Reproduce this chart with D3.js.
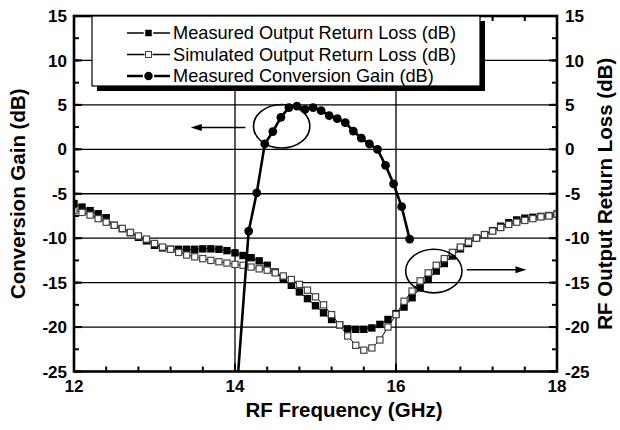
<!DOCTYPE html>
<html>
<head>
<meta charset="utf-8">
<script src="https://d3js.org/d3.v7.min.js"></script>
<style>
  html, body { margin: 0; padding: 0; background: #fff; }
  svg { display: block; font-family: "Liberation Sans", Arial, sans-serif; }
</style>
</head>
<body>
<svg id="chart" width="620" height="430"></svg>
<script>
// RF frequency grid for the return-loss sweeps (GHz)
const rlFreq = [12.0,12.1,12.2,12.3,12.4,12.5,12.6,12.7,12.8,12.9,
                13.0,13.1,13.2,13.3,13.4,13.5,13.6,13.7,13.8,13.9,
                14.0,14.1,14.2,14.3,14.4,14.5,14.6,14.7,14.8,14.9,
                15.0,15.1,15.2,15.3,15.4,15.5,15.6,15.7,15.8,15.9,
                16.0,16.1,16.2,16.3,16.4,16.5,16.6,16.7,16.8,16.9,
                17.0,17.1,17.2,17.3,17.4,17.5,17.6,17.7,17.8,17.9,18.0];

// Measured output return loss (dB)
const measuredRL = [-6.1,-6.5,-6.9,-7.25,-7.7,-8.55,-8.93,-9.38,-9.9,-10.3,
                    -10.8,-11.1,-11.25,-11.25,-11.25,-11.25,-11.2,-11.2,-11.25,-11.4,
                    -11.65,-11.95,-12.2,-12.55,-13.05,-13.8,-14.55,-15.3,-16.05,-16.8,
                    -17.6,-18.4,-19.15,-19.75,-20.2,-20.25,-20.25,-20.1,-19.7,-19.15,
                    -18.5,-17.75,-16.7,-15.6,-14.65,-13.7,-12.85,-12.0,-11.2,-10.6,
                    -10.0,-9.6,-9.15,-8.65,-8.25,-7.95,-7.75,-7.65,-7.55,-7.45,-7.3];

// Simulated output return loss (dB)
const simulatedRL = [-6.9,-7.1,-7.4,-7.8,-8.2,-8.55,-8.9,-9.35,-9.75,-10.1,
                     -10.6,-11.0,-11.25,-11.6,-11.9,-12.1,-12.3,-12.5,-12.65,-12.8,
                     -12.95,-13.05,-13.25,-13.45,-13.6,-13.9,-14.25,-14.65,-15.2,-15.85,
                     -16.6,-17.5,-18.6,-19.75,-21.0,-22.05,-22.6,-22.35,-21.45,-20.0,
                     -18.6,-17.1,-15.95,-14.8,-13.9,-13.05,-12.3,-11.6,-11.0,-10.45,
                     -10.0,-9.6,-9.2,-8.8,-8.45,-8.2,-8.0,-7.8,-7.6,-7.5,-7.3];

// Measured conversion gain (dB); the first sample lies below the axis range
const gainFreq = [13.97,14.17,14.27,14.37,14.47,14.57,14.67,14.77,14.87,14.97,15.07,
                  15.17,15.27,15.37,15.47,15.57,15.67,15.77,15.87,15.97,16.07,16.17];
const gainDB = [-33.5,-9.2,-4.9,0.6,2.0,3.6,4.7,4.85,4.5,4.7,4.35,
                3.8,3.45,3.0,2.05,1.25,0.6,0.0,-1.8,-3.9,-6.45,-10.1];

// Axis ticks
const xMajor = [12, 14, 16, 18];
const yMajor = [15, 10, 5, 0, -5, -10, -15, -20, -25];
const xGrid = [14, 16];
const yGrid = [10, 5, 0, -5, -10, -15, -20];

const legendItems = [
  {label: "Measured Output Return Loss (dB)", kind: "filled"},
  {label: "Simulated Output Return Loss (dB)", kind: "open"},
  {label: "Measured Conversion Gain (dB)", kind: "gain"}
];

const svg = d3.select("#chart");
const plot = {left: 74, right: 557, top: 16, bottom: 371.5};

const x = d3.scaleLinear().domain([12, 18]).range([plot.left, plot.right]);
const y = d3.scaleLinear().domain([-25, 15]).range([plot.bottom, plot.top]);

svg.append("rect").attr("width", 620).attr("height", 430).attr("fill", "#fff");

svg.append("defs").append("clipPath").attr("id", "plotClip")
  .append("rect")
  .attr("x", plot.left).attr("y", plot.top)
  .attr("width", plot.right - plot.left).attr("height", plot.bottom - plot.top);

// grid lines
const grid = svg.append("g").attr("stroke", "#000").attr("stroke-width", 1.3);
grid.selectAll("line.h").data(yGrid).join("line")
  .attr("x1", plot.left).attr("x2", plot.right)
  .attr("y1", d => y(d)).attr("y2", d => y(d));
grid.selectAll("line.v").data(xGrid).join("line")
  .attr("y1", plot.top).attr("y2", plot.bottom)
  .attr("x1", d => x(d)).attr("x2", d => x(d));

// inward ticks on all four sides
const xMinor = d3.range(12, 18.001, 0.4);
const yMinor = d3.range(-25, 15.001, 2.5);
const ticks = svg.append("g").attr("stroke", "#000").attr("stroke-width", 2);
[plot.bottom, plot.top].forEach((yy, i) => {
  const dir = i === 0 ? -1 : 1;
  ticks.append("g").selectAll("line").data(xMinor).join("line")
    .attr("x1", d => x(d)).attr("x2", d => x(d))
    .attr("y1", yy).attr("y2", yy + dir * 5);
  ticks.append("g").selectAll("line").data(xMajor).join("line")
    .attr("x1", d => x(d)).attr("x2", d => x(d))
    .attr("y1", yy).attr("y2", yy + dir * 8);
});
[plot.left, plot.right].forEach((xx, i) => {
  const dir = i === 0 ? 1 : -1;
  ticks.append("g").selectAll("line").data(yMinor).join("line")
    .attr("y1", d => y(d)).attr("y2", d => y(d))
    .attr("x1", xx).attr("x2", xx + dir * 5);
  ticks.append("g").selectAll("line").data(yMajor).join("line")
    .attr("y1", d => y(d)).attr("y2", d => y(d))
    .attr("x1", xx).attr("x2", xx + dir * 8);
});

// tick labels
const lab = svg.append("g").attr("font-weight", "bold").attr("font-size", 17).attr("fill", "#000");
lab.selectAll("text.yl").data(yMajor).join("text")
  .attr("x", plot.left - 7).attr("y", d => y(d)).attr("dy", "0.36em")
  .attr("text-anchor", "end").text(d => d);
lab.selectAll("text.yr").data(yMajor).join("text")
  .attr("x", plot.right + 8).attr("y", d => y(d)).attr("dy", "0.36em")
  .attr("text-anchor", "start").text(d => d);
lab.selectAll("text.xl").data(xMajor).join("text")
  .attr("x", d => x(d)).attr("y", plot.bottom + 20)
  .attr("text-anchor", "middle").text(d => d);

// axis titles
svg.append("text").attr("x", 344).attr("y", 417)
  .attr("text-anchor", "middle").attr("font-weight", "bold").attr("font-size", 20.5)
  .text("RF Frequency (GHz)");
svg.append("text").attr("transform", `translate(25,${(plot.top + plot.bottom) / 2}) rotate(-90)`)
  .attr("text-anchor", "middle").attr("font-weight", "bold").attr("font-size", 20.5)
  .text("Conversion Gain (dB)");
svg.append("text").attr("transform", `translate(612,${(plot.top + plot.bottom) / 2}) rotate(-90)`)
  .attr("text-anchor", "middle").attr("font-weight", "bold").attr("font-size", 20.5)
  .text("RF Output Return Loss (dB)");

const data = svg.append("g").attr("clip-path", "url(#plotClip)");
const sq = 7.4;

const measPts = rlFreq.map((f, i) => [f, measuredRL[i]]);
const simPts = rlFreq.map((f, i) => [f, simulatedRL[i]]);
const line = d3.line().x(d => x(d[0])).y(d => y(d[1]));

// measured return loss
data.append("path").datum(measPts).attr("d", line)
  .attr("fill", "none").attr("stroke", "#000").attr("stroke-width", 1);
data.append("g").selectAll("rect").data(measPts).join("rect")
  .attr("x", d => x(d[0]) - sq / 2).attr("y", d => y(d[1]) - sq / 2)
  .attr("width", sq).attr("height", sq).attr("fill", "#000");

// simulated return loss
data.append("path").datum(simPts).attr("d", line)
  .attr("fill", "none").attr("stroke", "#000").attr("stroke-width", 1);
data.append("g").selectAll("rect").data(simPts).join("rect")
  .attr("x", d => x(d[0]) - (sq - 1.2) / 2).attr("y", d => y(d[1]) - (sq - 1.2) / 2)
  .attr("width", sq - 1.2).attr("height", sq - 1.2)
  .attr("fill", "#fff").attr("stroke", "#444").attr("stroke-width", 1.2);

// conversion gain
const gainPts = gainFreq.map((f, i) => [f, gainDB[i]]);
data.append("path").datum(gainPts).attr("d", line)
  .attr("fill", "none").attr("stroke", "#000").attr("stroke-width", 2.6);
data.append("g").selectAll("circle").data(gainPts).join("circle")
  .attr("cx", d => x(d[0])).attr("cy", d => y(d[1])).attr("r", 4.4).attr("fill", "#000");

// annotations: ellipses with arrows pointing to the relevant axis
const ann = svg.append("g").attr("fill", "none").attr("stroke", "#000").attr("stroke-width", 1.6);
const ellipses = [{f: 14.58, v: 2.6}, {f: 16.47, v: -13.7}];
ann.selectAll("ellipse").data(ellipses).join("ellipse")
  .attr("cx", d => x(d.f)).attr("cy", d => y(d.v))
  .attr("rx", x(12.35) - x(12)).attr("ry", y(0) - y(2.45));

const arrows = [{f0: 14.13, f1: 13.45, v: 2.45}, {f0: 16.88, f1: 17.62, v: -13.55}];
arrows.forEach(a => {
  const x0 = x(a.f0), x1 = x(a.f1), yy = y(a.v);
  const dir = x1 > x0 ? 1 : -1;
  ann.append("line").attr("x1", x0).attr("x2", x1 - dir * 8).attr("y1", yy).attr("y2", yy);
  svg.append("path")
    .attr("d", `M${x1},${yy} L${x1 - dir * 11},${yy - 3.5} L${x1 - dir * 11},${yy + 3.5} Z`)
    .attr("fill", "#000");
});

// frame
svg.append("rect")
  .attr("x", plot.left).attr("y", plot.top)
  .attr("width", plot.right - plot.left).attr("height", plot.bottom - plot.top)
  .attr("fill", "none").attr("stroke", "#000").attr("stroke-width", 2.6);

// legend with drop shadow
const lg = {x: 92, y: plot.top, w: 388, h: 70};
svg.append("rect").attr("x", lg.x + 5).attr("y", lg.y + 5).attr("width", lg.w).attr("height", lg.h)
  .attr("fill", "#000");
svg.append("rect").attr("x", lg.x).attr("y", lg.y).attr("width", lg.w).attr("height", lg.h)
  .attr("fill", "#fff").attr("stroke", "#000").attr("stroke-width", 1.2);

const rows = svg.append("g").selectAll("g").data(legendItems).join("g")
  .attr("transform", (d, i) => `translate(0,${lg.y + 17 + i * 21.5})`);
rows.append("line").attr("x1", 127).attr("x2", 170).attr("y1", 0).attr("y2", 0)
  .attr("stroke", "#000").attr("stroke-width", d => d.kind === "gain" ? 2.6 : 1.6);
rows.filter(d => d.kind === "filled").append("rect")
  .attr("x", 144.5).attr("y", -4).attr("width", 8).attr("height", 8)
  .attr("fill", "#000").attr("stroke", "#fff").attr("stroke-width", 1.5);
rows.filter(d => d.kind === "open").append("rect")
  .attr("x", 144.5).attr("y", -4).attr("width", 8).attr("height", 8)
  .attr("fill", "#fff");
rows.filter(d => d.kind === "open").append("rect")
  .attr("x", 145.5).attr("y", -3).attr("width", 6).attr("height", 6)
  .attr("fill", "#fff").attr("stroke", "#444").attr("stroke-width", 1);
rows.filter(d => d.kind === "gain").append("circle")
  .attr("cx", 148.5).attr("cy", 0).attr("r", 5).attr("fill", "#000").attr("stroke", "#fff").attr("stroke-width", 1.5);
rows.append("text").attr("x", 173).attr("y", 0).attr("dy", "0.35em")
  .attr("font-size", 18.2).attr("fill", "#000").text(d => d.label);
</script>
</body>
</html>
